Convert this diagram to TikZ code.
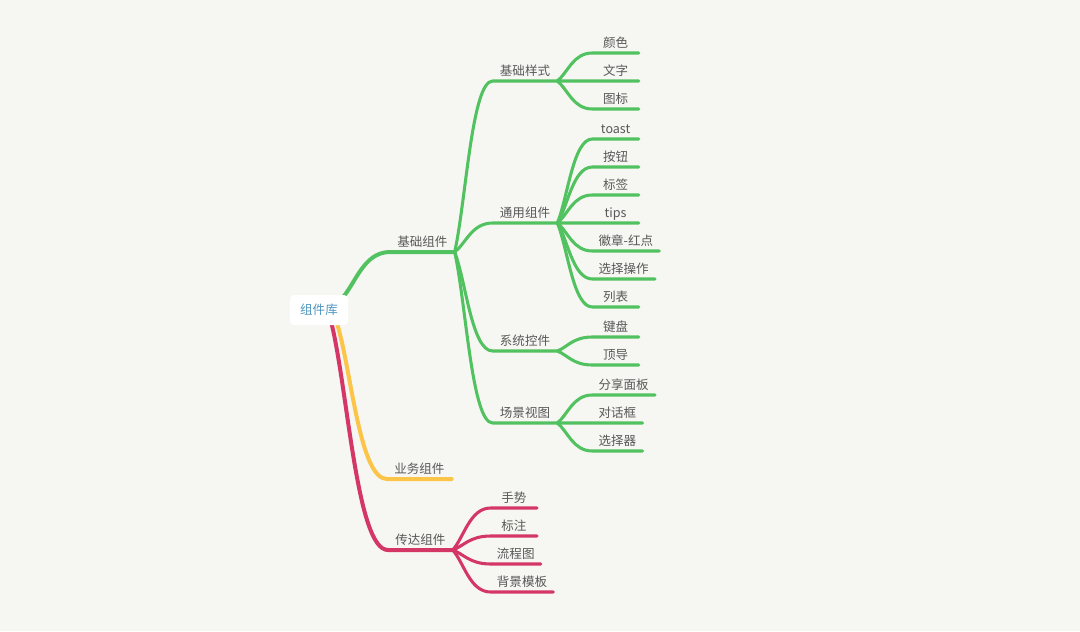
\documentclass[tikz,border=0pt]{standalone}
\usepackage{fontspec}
\setmainfont{Noto Sans CJK SC}
\usepackage{tikz}
\usetikzlibrary{calc, positioning}
\pgfdeclarelayer{back}
\pgfdeclarelayer{bg}
\pgfsetlayers{back,bg,main}

\definecolor{bgcol}{RGB}{246,247,243}
\definecolor{mapgreen}{RGB}{82,194,96}
\definecolor{mapyellow}{RGB}{252,196,72}
\definecolor{mapred}{RGB}{212,54,102}
\definecolor{rootblue}{RGB}{78,150,188}
\definecolor{labelgray}{RGB}{88,88,88}

\tikzset{
  mapcurve/.style={to path={.. controls ($(\tikztostart)!0.3!(\tikztotarget)$) and ($(\tikztotarget)!0.55!(\tikztostart|-\tikztotarget)$) .. (\tikztotarget)}},
}

\begin{document}
\begin{tikzpicture}
	[x=0.75pt, y=-0.75pt,
	 every node/.style={font=\fontsize{9.4}{11}\selectfont},
	 root/.style={fill=white, rounded corners=3pt, minimum width=43.5pt, minimum height=22.5pt, text=rootblue},
	 topic/.style={anchor=south west, inner xsep=5.25pt, inner ysep=2.5pt, text height=7pt, text depth=1.4pt, text=labelgray},
	 leaf/.style={topic, inner xsep=4.5pt, minimum width=34.5pt},
	 bough/.style={line width=3pt, line cap=round},
	 twig/.style={line width=2.3pt, line cap=round}]
	\begin{pgfonlayer}{back}
		\fill[bgcol] (0,0) rectangle (1080,631);
	\end{pgfonlayer}

	% nodes %
	\node[root] (lib) at (319,310) {组件库};

	\node[above right=43.5pt and 53.25pt of lib.center, topic] (jczj) {基础组件};
	\node[below right=126.75pt and 51pt of lib.center, topic] (ywzj) {业务组件};
	\node[below right=180pt and 51.75pt of lib.center, topic] (cdzj) {传达组件};

	\node[above right=128.25pt and 28.5pt of jczj.south east, topic] (jcys) {基础样式};
	\node[above right=21.75pt and 28.5pt of jczj.south east, topic] (tyzj) {通用组件};
	\node[below right=74.25pt and 28.5pt of jczj.south east, topic] (xtkj) {系统控件};
	\node[below right=128.25pt and 28.5pt of jczj.south east, topic] (cjst) {场景视图};

	\node[above right=21pt and 26.25pt of jcys.south east, leaf] (ys) {颜色};
	\node[right=26.25pt of jcys.south east, leaf] (wz) {文字};
	\node[below right=21pt and 26.25pt of jcys.south east, leaf] (tb) {图标};

	\node[above right=63pt and 26.25pt of tyzj.south east, leaf] (toast) {toast};
	\node[above right=42pt and 26.25pt of tyzj.south east, leaf] (anniu) {按钮};
	\node[above right=21pt and 26.25pt of tyzj.south east, leaf] (bq) {标签};
	\node[right=26.25pt of tyzj.south east, leaf] (tips) {tips};
	\node[below right=21pt and 26.25pt of tyzj.south east, leaf] (hz) {徽章-红点};
	\node[below right=42pt and 26.25pt of tyzj.south east, leaf] (xzcz) {选择操作};
	\node[below right=63pt and 26.25pt of tyzj.south east, leaf] (lb) {列表};

	\node[above right=10.5pt and 26.25pt of xtkj.south east, leaf] (jp) {键盘};
	\node[below right=10.5pt and 26.25pt of xtkj.south east, leaf] (dd) {顶导};

	\node[above right=21pt and 26.25pt of cjst.south east, leaf] (fxmb) {分享面板};
	\node[right=26.25pt of cjst.south east, leaf] (dhk) {对话框};
	\node[below right=21pt and 26.25pt of cjst.south east, leaf] (xzq) {选择器};

	\node[above right=31.5pt and 28.5pt of cdzj.south east, leaf] (ss) {手势};
	\node[above right=10.5pt and 28.5pt of cdzj.south east, leaf] (bz) {标注};
	\node[below right=10.5pt and 28.5pt of cdzj.south east, leaf] (lct) {流程图};
	\node[below right=31.5pt and 28.5pt of cdzj.south east, leaf] (bjmb) {背景模板};

	% edges %
	\begin{pgfonlayer}{bg}
		\draw[bough, mapgreen] ([xshift=-6pt,yshift=-4pt]lib.north east) to[mapcurve] (jczj.south west) -- (jczj.south east);
		\draw[bough, mapyellow] ([xshift=13pt,yshift=3pt]lib.south) to[mapcurve] (ywzj.south west) -- (ywzj.south east);
		\draw[bough, mapred] ([xshift=9pt,yshift=3pt]lib.south) to[mapcurve] (cdzj.south west) -- (cdzj.south east);

		\foreach \a/\b in {jczj/jcys, jczj/tyzj, jczj/xtkj, jczj/cjst,
			jcys/ys, jcys/wz, jcys/tb,
			tyzj/toast, tyzj/anniu, tyzj/bq, tyzj/tips, tyzj/hz, tyzj/xzcz, tyzj/lb,
			xtkj/jp, xtkj/dd, cjst/fxmb, cjst/dhk, cjst/xzq}
			\draw[twig, mapgreen] (\a.south east) to[mapcurve] (\b.south west) -- (\b.south east);

		\foreach \b in {ss, bz, lct, bjmb}
			\draw[twig, mapred] (cdzj.south east) to[mapcurve] (\b.south west) -- (\b.south east);
	\end{pgfonlayer}
\end{tikzpicture}
\end{document}
